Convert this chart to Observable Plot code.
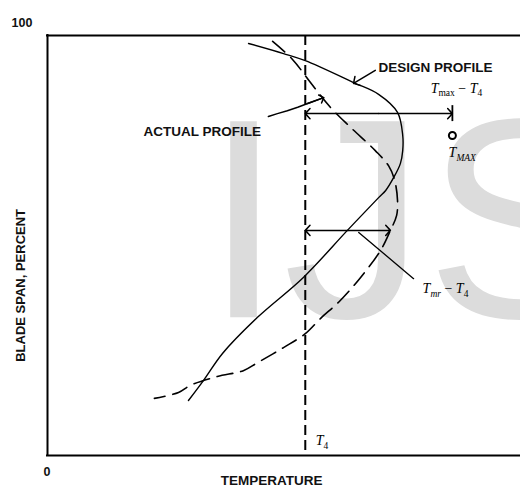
<!DOCTYPE html>
<html><head><meta charset="utf-8">
<script src="https://cdn.jsdelivr.net/npm/d3@7"></script>
<script src="https://cdn.jsdelivr.net/npm/@observablehq/plot@0.6"></script>
<style>body{margin:0;overflow:hidden;background:#fff}</style>
</head><body><div id="chart"></div>
<script>
// Design profile (solid): temperature (arbitrary units) vs blade span (%)
const designTemp = [42.5, 49.9, 54.5, 64.7, 70.0, 74.0, 75.1, 75.1, 74.6, 73.2, 71.5, 70.0, 63.4, 54.1, 44.4, 37.0, 33.0, 29.8];
const designSpan = [98.1, 95.7, 94.0, 88.8, 86.0, 81.7, 76.2, 72.6, 69.5, 66.2, 63.1, 61.4, 53.6, 42.4, 32.9, 24.3, 17.9, 13.1];
// Actual profile (dashed)
const actualTemp = [47.6, 51.8, 55.6, 59.8, 64.1, 69.3, 72.1, 73.4, 74.0, 73.8, 72.5, 70.4, 66.2, 61.9, 57.7, 54.5, 49.9, 44.4, 41.4, 35.9, 30.2, 27.7, 22.6];
const actualSpan = [98.6, 94.3, 88.8, 82.9, 78.1, 72.6, 69.0, 65.5, 60.7, 57.1, 53.6, 48.8, 42.4, 36.9, 32.6, 29.0, 25.7, 22.1, 20.2, 18.8, 16.7, 15.0, 13.6];
// Reference temperature T4 and T_MAX point
const T4 = 54.5;
const tMaxTemp = [85.6];
const tMaxSpan = [76.2];
// Double-headed dimension arrows (T_max - T4, T_mr - T4)
const dimX1 = [T4, T4];
const dimX2 = [85.6, 72.5];
const dimY = [81.4, 53.6];
// Tick bar closing the T_max - T4 arrow
const barX = [85.6];
const barY1 = [79.5];
const barY2 = [83.3];
// Leader line to T_mr - T4 label
const leaderX = [65.8, 77.4];
const leaderY = [53.1, 42.1];
// Pointer to design profile
const designPtrX = [69.3, 64.7];
const designPtrY = [91.7, 88.6];
// Wavy pointer to actual profile
const actualPtrX = [46.7, 48.6, 50.7, 52.9, 55.0, 58.4];
const actualPtrY = [80.7, 81.4, 82.1, 82.9, 83.8, 85.2];
// Bold labels
const labelText = ["DESIGN PROFILE", "ACTUAL PROFILE"];
const labelX = [70.0, 20.3];
const labelY = [91.2, 76.0];
// Math labels ( _{..} upright subscript, _[..] italic subscript )
const mathText = ["T_{max} − T_{4}", "T_[MAX]", "T_[mr] − T_{4}", "T_{4}"];
const mathX = [81.0, 84.8, 79.3, 56.7];
const mathY = [86.4, 71.0, 38.6, 2.4];
// Axis texts
const tickText = ["100", "0"];
const tickX = [-5.4, -0.1];
const tickY = [102.1, -4.8];
const xTitle = "TEMPERATURE";
const yTitle = "BLADE SPAN, PERCENT";
// Watermark
const watermarkText = "IJSER";
const watermarkX = 33.07;
const watermarkY = 32.9;

const design = designTemp.map((t, i) => ({t, s: designSpan[i]}));
const actual = actualTemp.map((t, i) => ({t, s: actualSpan[i]}));
const dimHalves = dimX1.flatMap((x1, i) => {
  const m = (x1 + dimX2[i]) / 2;
  return [{x1: m, x2: x1, y: dimY[i]}, {x1: m, x2: dimX2[i], y: dimY[i]}];
});
const bars = barX.map((x, i) => ({x, y1: barY1[i], y2: barY2[i]}));
const leader = leaderX.map((x, i) => ({x, y: leaderY[i]}));
const designPtr = [{x1: designPtrX[0], y1: designPtrY[0], x2: designPtrX[1], y2: designPtrY[1]}];
const actualPtr = actualPtrX.map((x, i) => ({x, y: actualPtrY[i]}));
const n = actualPtrX.length;
const actualHead = [{x1: actualPtrX[n - 2], y1: actualPtrY[n - 2], x2: actualPtrX[n - 1], y2: actualPtrY[n - 1]}];
const labels = labelText.map((text, i) => ({text, x: labelX[i], y: labelY[i]}));
const maths = mathText.map((text, i) => ({text, x: mathX[i], y: mathY[i]}));
const ticks = tickText.map((text, i) => ({text, x: tickX[i], y: tickY[i]}));

const bold = "'Liberation Sans', Arial, sans-serif";
const serif = "'Liberation Serif', 'DejaVu Serif', serif";
const head = {stroke: "black", strokeWidth: 1.5, headLength: 7, headAngle: 95};

const plot = Plot.plot({
  width: 520, height: 488,
  marginLeft: 47, marginRight: 0, marginTop: 35, marginBottom: 33,
  x: {domain: [0, 100], axis: null},
  y: {domain: [0, 100], axis: null},
  style: {fontFamily: bold, background: "white", overflow: "visible"},
  marks: [
    Plot.text([watermarkText], {x: () => watermarkX, y: () => watermarkY, text: d => d, fontSize: 285, fill: "#dcdcdc", textAnchor: "start", lineAnchor: "bottom", fontFamily: bold}),
    Plot.ruleY([0, 100], {stroke: "black", strokeWidth: 2, strokeLinecap: "square"}),
    Plot.ruleX([0], {stroke: "black", strokeWidth: 2, strokeLinecap: "square"}),
    Plot.ruleX([T4], {stroke: "black", strokeWidth: 2, strokeDasharray: "10,5"}),
    Plot.line(design, {x: "t", y: "s", curve: "catmull-rom", stroke: "black", strokeWidth: 1.4}),
    Plot.line(actual, {x: "t", y: "s", curve: "catmull-rom", stroke: "black", strokeWidth: 1.6, strokeDasharray: "16,8"}),
    Plot.arrow(dimHalves, {x1: "x1", x2: "x2", y1: "y", y2: "y", ...head}),
    Plot.ruleX(bars, {x: "x", y1: "y1", y2: "y2", stroke: "black", strokeWidth: 1.8}),
    Plot.line(leader, {x: "x", y: "y", stroke: "black", strokeWidth: 1.3}),
    Plot.arrow(designPtr, {x1: "x1", y1: "y1", x2: "x2", y2: "y2", ...head}),
    Plot.line(actualPtr, {x: "x", y: "y", stroke: "black", strokeWidth: 1.5}),
    Plot.arrow(actualHead, {x1: "x1", y1: "y1", x2: "x2", y2: "y2", ...head}),
    Plot.dot(tMaxTemp.map((t, i) => ({t, s: tMaxSpan[i]})), {x: "t", y: "s", r: 3.5, stroke: "black", strokeWidth: 2, fill: "white"}),
    Plot.text(labels, {x: "x", y: "y", text: "text", textAnchor: "start", lineAnchor: "bottom", fontSize: 13.5, fontWeight: "bold", fill: "#111"}),
    Plot.text(maths, {x: "x", y: "y", text: "text", textAnchor: "start", lineAnchor: "bottom", fontSize: 14, fontFamily: serif, fill: "black"}),
    Plot.text(ticks, {x: "x", y: "y", text: "text", textAnchor: "middle", lineAnchor: "bottom", fontSize: 12.5, fontWeight: "bold", fill: "#111"}),
    Plot.text([xTitle], {x: () => 47.4, y: () => -7.0, text: d => d, textAnchor: "middle", lineAnchor: "bottom", fontSize: 13.5, fontWeight: "bold", fill: "#111"}),
    Plot.text([yTitle], {x: () => -4.86, y: () => 40.5, text: d => d, rotate: -90, textAnchor: "middle", lineAnchor: "bottom", fontSize: 13, fontWeight: "bold", fill: "#111"})
  ]
});

function addTspan(el, txt) {
  const t = document.createElementNS("http://www.w3.org/2000/svg", "tspan");
  t.textContent = txt;
  t.setAttribute("fill", "black");
  el.appendChild(t);
  return t;
}
function renderMath(el, src) {
  el.textContent = "";
  const re = /_\{([^}]*)\}|_\[([^\]]*)\]|([^_]+)/g;
  let m, shifted = false;
  while ((m = re.exec(src))) {
    if (m[3] !== undefined) {
      for (const part of m[3].match(/[A-Za-z]+|[^A-Za-z]+/g)) {
        const t = addTspan(el, part);
        if (/[A-Za-z]/.test(part)) t.setAttribute("font-style", "italic");
        if (shifted) { t.setAttribute("dy", "-3.5"); shifted = false; }
      }
    } else {
      const t = addTspan(el, m[1] !== undefined ? m[1] : m[2]);
      t.setAttribute("font-size", "9.5");
      t.setAttribute("dy", "3.5");
      if (m[2] !== undefined) t.setAttribute("font-style", "italic");
      shifted = true;
    }
  }
}
d3.select(plot).selectAll("text").each(function() {
  if (this.textContent.includes("_")) renderMath(this, this.textContent);
});
document.getElementById("chart").appendChild(plot);
</script>
</body></html>
